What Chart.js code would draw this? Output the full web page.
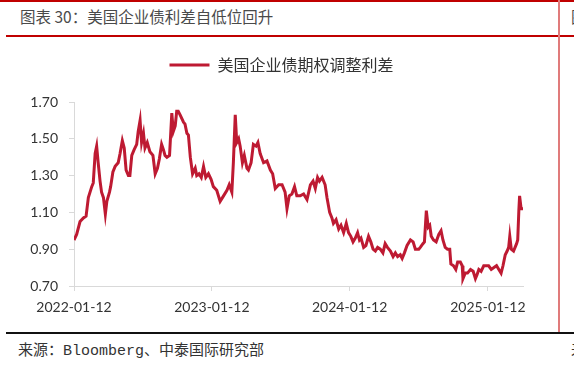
<!DOCTYPE html>
<html>
<head>
<meta charset="utf-8">
<script src="https://cdn.jsdelivr.net/npm/chart.js@4.4.1/dist/chart.umd.min.js"></script>
<style>
  body { margin: 0; width: 574px; height: 368px; overflow: hidden; background: #fff; position: relative;
         font-family: "Noto Sans CJK SC", sans-serif; }
  .bar { position: absolute; }
  .txt { position: absolute; white-space: nowrap; color: #404040; }
  #chartWrap { position: absolute; left: 0; top: 40px; width: 568px; height: 288px; }
  .mono { font-family: "Liberation Mono", monospace; font-size: 15px; }
</style>
</head>
<body>
<div class="bar" style="left:0;top:0;width:574px;height:2px;background:#c00000"></div>
<div class="txt" style="left:20px;top:4px;font-size:15.5px;line-height:24px;color:#4a4a4a">图表 30：美国企业债利差自低位回升</div>
<div class="txt" style="left:571px;top:4px;font-size:15.5px;line-height:24px;color:#4a4a4a">图表 31</div>
<div class="bar" style="left:6px;top:35px;width:568px;height:2px;background:#c00000"></div>
<div class="bar" style="left:558px;top:0;width:2px;height:334px;background:#e07b7b"></div>
<div class="bar" style="left:6px;top:332px;width:568px;height:2px;background:#111"></div>
<div class="txt" style="left:18px;top:338px;font-size:15px;line-height:22px;color:#333">来源：<span class="mono">Bloomberg</span>、中泰国际研究部</div>
<div class="txt" style="left:571px;top:338px;font-size:15px;line-height:22px;color:#333">来源</div>
<div id="chartWrap"><canvas id="spreadChart" width="568" height="288"></canvas></div>

<script>
// 美国企业债期权调整利差（%）
const dates = [
  '2022-01-12','2022-01-19','2022-01-28','2022-02-06','2022-02-13','2022-02-19','2022-02-28','2022-03-04',
  '2022-03-09','2022-03-13','2022-03-17','2022-03-22','2022-03-26','2022-03-31','2022-04-05','2022-04-09',
  '2022-04-16','2022-04-19','2022-04-25','2022-05-01','2022-05-09','2022-05-14','2022-05-20','2022-05-25',
  '2022-05-30','2022-06-05','2022-06-09','2022-06-14','2022-06-20','2022-06-27','2022-07-01','2022-07-06',
  '2022-07-10','2022-07-15','2022-07-19','2022-07-25','2022-08-01','2022-08-09','2022-08-15','2022-08-21',
  '2022-08-26','2022-09-01','2022-09-06','2022-09-10','2022-09-15','2022-09-22','2022-09-28','2022-10-02',
  '2022-10-07','2022-10-11','2022-10-15','2022-10-20','2022-10-29','2022-11-02','2022-11-07','2022-11-11',
  '2022-11-16','2022-11-22','2022-11-29','2022-12-03','2022-12-09','2022-12-15','2022-12-21','2022-12-27',
  '2023-01-03','2023-01-10','2023-01-16','2023-01-25','2023-02-03','2023-02-12','2023-02-21','2023-02-27',
  '2023-03-06','2023-03-10','2023-03-15','2023-03-19','2023-03-24','2023-03-28','2023-04-03','2023-04-08',
  '2023-04-15','2023-04-19','2023-04-26','2023-05-02','2023-05-09','2023-05-14','2023-05-20','2023-05-29',
  '2023-06-07','2023-06-16','2023-06-22','2023-06-29','2023-07-08','2023-07-17','2023-07-25','2023-07-30',
  '2023-08-05','2023-08-12','2023-08-19','2023-08-25','2023-09-03','2023-09-12','2023-09-21','2023-09-30',
  '2023-10-07','2023-10-13','2023-10-19','2023-10-24','2023-10-31','2023-11-08','2023-11-13','2023-11-20',
  '2023-11-26','2023-11-30','2023-12-07','2023-12-14','2023-12-20','2023-12-27','2024-01-03','2024-01-09',
  '2024-01-15','2024-01-21','2024-01-27','2024-02-02','2024-02-07','2024-02-11','2024-02-18','2024-02-24',
  '2024-03-02','2024-03-08','2024-03-14','2024-03-20','2024-03-26','2024-04-02','2024-04-09','2024-04-15',
  '2024-04-21','2024-04-29','2024-05-06','2024-05-12','2024-05-18','2024-05-25','2024-05-30','2024-06-05',
  '2024-06-12','2024-06-21','2024-06-28','2024-07-04','2024-07-13','2024-07-17','2024-07-24','2024-07-28',
  '2024-08-02','2024-08-07','2024-08-11','2024-08-15','2024-08-21','2024-08-28','2024-09-04','2024-09-10',
  '2024-09-15','2024-09-21','2024-09-27','2024-10-03','2024-10-06','2024-10-13','2024-10-19','2024-10-24',
  '2024-10-31','2024-11-05','2024-11-07','2024-11-13','2024-11-19','2024-11-27','2024-12-04','2024-12-10',
  '2024-12-14','2024-12-19','2024-12-25','2025-01-01','2025-01-08','2025-01-14','2025-01-21','2025-01-28',
  '2025-02-04','2025-02-10','2025-02-16','2025-02-21','2025-02-27','2025-03-04','2025-03-08','2025-03-11',
  '2025-03-15','2025-03-21','2025-03-29','2025-04-01','2025-04-04','2025-04-06','2025-04-10','2025-04-15'
];
const oas = [
  0.95,0.98,1.05,1.07,1.08,1.18,1.24,1.26,
  1.42,1.46,1.37,1.27,1.21,1.18,1.09,1.16,
  1.21,1.24,1.32,1.35,1.37,1.42,1.49,1.45,
  1.33,1.30,1.30,1.41,1.44,1.47,1.54,1.60,
  1.48,1.53,1.45,1.48,1.43,1.41,1.31,1.34,
  1.39,1.47,1.44,1.41,1.40,1.41,1.64,1.54,
  1.57,1.65,1.65,1.63,1.59,1.58,1.53,1.52,
  1.40,1.31,1.34,1.30,1.31,1.29,1.35,1.29,
  1.31,1.28,1.24,1.22,1.16,1.19,1.22,1.25,
  1.21,1.37,1.63,1.48,1.50,1.46,1.37,1.41,
  1.34,1.33,1.37,1.47,1.46,1.48,1.42,1.37,
  1.38,1.33,1.31,1.23,1.25,1.25,1.21,1.12,
  1.19,1.20,1.24,1.19,1.19,1.20,1.17,1.25,
  1.27,1.23,1.29,1.27,1.29,1.25,1.18,1.10,
  1.07,1.04,1.06,1.01,1.03,0.99,1.04,0.99,
  0.97,0.94,0.96,0.99,0.95,0.96,0.91,0.92,
  0.97,0.94,0.90,0.89,0.91,0.90,0.88,0.93,
  0.91,0.89,0.86,0.88,0.86,0.87,0.85,0.88,
  0.92,0.95,0.94,0.90,0.90,0.91,0.93,0.94,
  1.11,1.02,1.03,0.97,0.95,0.94,0.98,1.00,
  0.95,0.91,0.90,0.90,0.82,0.81,0.79,0.83,
  0.83,0.81,0.74,0.77,0.77,0.79,0.78,0.74,
  0.76,0.79,0.78,0.81,0.81,0.81,0.79,0.80,
  0.81,0.79,0.77,0.81,0.87,0.89,0.91,0.97,
  0.90,0.89,0.93,0.95,1.11,1.19,1.12,1.12
];
const xTickLabels = ['2022-01-12', '2023-01-12', '2024-01-12', '2025-01-12'];
const yTickValues = [0.70, 0.90, 1.10, 1.30, 1.50, 1.70];
const seriesName = '美国企业债期权调整利差';

const lineColor = '#be1a32';
const axisColor = '#d9d9d9';
const tickFont = { family: 'Lato, "Open Sans", sans-serif', size: 14 };

// 日期 -> 距起始日的天数（线性轴用）
const day0 = Date.parse(dates[0]);
const toDay = (s) => (Date.parse(s) - day0) / 86400000;

const points = dates.map((d, i) => ({ x: toDay(d), y: oas[i] }));

// 图例下方多留一点空，并把图例整体右移一点，对齐原图
const legendTweak = {
  id: 'legendTweak',
  beforeInit(chart) {
    const fit = chart.legend.fit;
    chart.legend.fit = function () {
      fit.bind(chart.legend)();
      this.height += 19;
    };
  },
  afterLayout(chart) {
    chart.legend.left += 6;
    chart.legend.right += 6;
  }
};

new Chart(document.getElementById('spreadChart'), {
  type: 'line',
  data: {
    datasets: [{
      label: seriesName,
      data: points,
      borderColor: lineColor,
      backgroundColor: lineColor,
      borderWidth: 3,
      pointRadius: 0,
      tension: 0
    }]
  },
  options: {
    responsive: false,
    animation: false,
    layout: { padding: { left: 28, right: 45, top: 7, bottom: 0 } },
    plugins: {
      legend: {
        position: 'top',
        labels: {
          usePointStyle: true,
          pointStyle: 'line',
          pointStyleWidth: 40,
          color: '#333',
          font: { family: '"Noto Sans CJK SC", sans-serif', size: 16 }
        }
      },
      tooltip: { enabled: false }
    },
    scales: {
      x: {
        type: 'linear',
        min: 0,
        max: toDay(dates[dates.length - 1]),
        afterBuildTicks: (scale) => { scale.ticks = xTickLabels.map(s => ({ value: toDay(s) })); },
        afterFit: (scale) => { scale.height = 42; },
        ticks: {
          autoSkip: false,
          maxRotation: 0,
          padding: 8,
          color: '#333',
          font: tickFont,
          callback: (v, i) => xTickLabels[i]
        },
        grid: { drawOnChartArea: false, color: axisColor, tickLength: 5 },
        border: { color: axisColor, width: 1 }
      },
      y: {
        min: 0.7,
        max: 1.7,
        afterBuildTicks: (scale) => { scale.ticks = yTickValues.map(v => ({ value: v })); },
        afterFit: (scale) => { scale.width = 46; },
        ticks: {
          padding: 11,
          color: '#333',
          font: tickFont,
          callback: (v) => v.toFixed(2)
        },
        grid: { drawOnChartArea: false, color: axisColor, tickLength: 5 },
        border: { color: axisColor, width: 1 }
      }
    }
  },
  plugins: [legendTweak]
});
</script>
</body>
</html>
